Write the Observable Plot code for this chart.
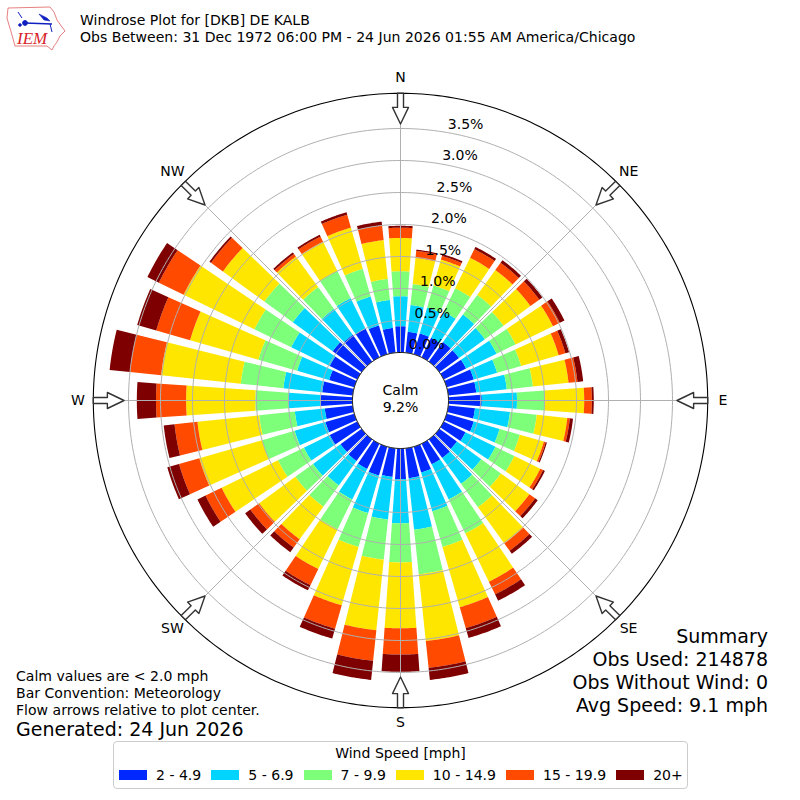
<!DOCTYPE html>
<html>
<head>
<meta charset="utf-8">
<script src="https://cdn.jsdelivr.net/npm/d3@7"></script>
<script src="https://cdn.jsdelivr.net/npm/@observablehq/plot@0.6"></script>
<style>
html,body{margin:0;padding:0;background:#fff;}
#page{position:relative;width:800px;height:800px;overflow:hidden;font-family:"DejaVu Sans",sans-serif;color:#000;}
#chart{position:absolute;left:0;top:0;}
.t{position:absolute;white-space:nowrap;font-size:14.05px;line-height:16px;}
.big{font-size:19px;line-height:22px;}
.r{text-align:right;}
#legend{position:absolute;left:113px;top:741px;width:573px;height:46px;border:1px solid #ccc;border-radius:4px;background:#fff;box-sizing:content-box;}
#legend .h{position:absolute;left:0;right:0;top:3px;text-align:center;font-size:14.05px;line-height:16px;}
#legend .row{position:absolute;left:5px;top:25px;display:flex;gap:10px;font-size:14.05px;line-height:16px;white-space:nowrap;}
#legend .item{display:flex;align-items:center;gap:9px;}
#legend .sw{width:28px;height:10px;display:block;}
</style>
</head>
<body>
<div id="page">
<div id="chart"></div>
<svg style="position:absolute;left:0;top:0" width="70" height="56" viewBox="0 0 70 56">
  <path d="M8 8 L50 7 L54 12 L57 20 L62 27 L65 31 L60 36 L57 42 L54 46 L52 50 L47 46 L15 46 L12 35 L9 25 L7 18 Z" fill="#fff" stroke="#e06060" stroke-width="0.8"/>
  <text x="17" y="44" font-family="Liberation Serif" font-style="italic" font-size="17" fill="#d8232a">IEM</text>
  <g stroke="#1020c0" fill="#1020c0">
    <line x1="25" y1="23" x2="52" y2="24" stroke-width="1.6"/>
    <circle cx="25" cy="23" r="2.4"/>
    <path d="M39 14 L47 18 L50 21 L44 20 Z" stroke-width="0.6"/>
    <line x1="18" y1="12" x2="22" y2="18" stroke-width="1"/>
    <line x1="50" y1="24" x2="52" y2="32" stroke-width="1"/>
    <circle cx="20" cy="25" r="1.3"/>
  </g>
</svg>
<div class="t" style="left:80px;top:12px">Windrose Plot for [DKB] DE KALB</div>
<div class="t" style="left:80px;top:29px">Obs Between: 31 Dec 1972 06:00 PM - 24 Jun 2026 01:55 AM America/Chicago</div>
<div class="t" style="left:16px;top:668px">Calm values are &lt; 2.0 mph</div>
<div class="t" style="left:16px;top:685px">Bar Convention: Meteorology</div>
<div class="t" style="left:16px;top:702px">Flow arrows relative to plot center.</div>
<div class="t big" style="left:16px;top:718px">Generated: 24 Jun 2026</div>
<div class="t big r" style="right:32px;top:625px">Summary</div>
<div class="t big r" style="right:32px;top:648px">Obs Used: 214878</div>
<div class="t big r" style="right:32px;top:671px">Obs Without Wind: 0</div>
<div class="t big r" style="right:32px;top:694px">Avg Speed: 9.1 mph</div>
<div id="legend"><div class="h">Wind Speed [mph]</div><div class="row" id="legendRow"></div></div>
</div>
<script>
// Wind direction of each bar, degrees
const directions = d3.range(0, 360, 10);
const speedBins = ["2 - 4.9", "5 - 6.9", "7 - 9.9", "10 - 14.9", "15 - 19.9", "20+"];
const binColors = ["#0028ff", "#00d4ff", "#7dff7a", "#ffe600", "#ff4a00", "#7f0000"];

// Percent of observations per direction, for each speed bin
const bin2to5 = [.41,.33,.34,.34,.38,.38,.39,.44,.44,.52,.42,.44,.38,.34,.36,.36,.42,.47,.48,.45,.47,.44,.42,.41,.48,.47,.44,.50,.48,.41,.48,.56,.52,.50,.47,.39];
const bin5to7 = [.47,.42,.42,.45,.53,.50,.53,.38,.48,.55,.55,.42,.52,.47,.50,.61,.63,.81,.69,.67,.61,.53,.47,.53,.45,.50,.47,.50,.61,.52,.67,.77,.50,.53,.47,.44];
const bin7to10 = [.39,.33,.36,.41,.38,.36,.33,.39,.41,.44,.42,.33,.33,.38,.45,.59,.58,.70,.61,.63,.55,.52,.41,.34,.45,.53,.56,.52,.67,.63,.64,.55,.42,.47,.45,.33];
const bin10to15 = [.52,.41,.42,.53,.48,.52,.65,.61,.56,.61,.48,.39,.45,.55,.70,.84,.98,1.05,1.03,1.11,.95,.69,.63,.70,.98,1.02,.97,1.08,1.25,1.11,1.23,.80,.59,.51,.67,.61];
const bin15to20 = [.16,.11,.06,.15,.14,.17,.12,.11,.14,.12,.04,.03,.05,.11,.14,.22,.34,.42,.41,.48,.38,.28,.16,.17,.28,.33,.36,.47,.49,.55,.43,.23,.05,.09,.21,.23];
const bin20plus = [.03,.02,.03,.04,.05,.06,.08,.06,.09,.03,.05,.02,.03,.05,.06,.11,.16,.19,.27,.30,.16,.09,.09,.10,.14,.19,.17,.30,.32,.31,.20,.03,.03,.03,.04,.06];
const binValues = [bin2to5, bin5to7, bin7to10, bin10to15, bin15to20, bin20plus];

const ringValues = [0, 0.5, 1, 1.5, 2, 2.5, 3, 3.5];
const compass = ["N", "NE", "E", "SE", "S", "SW", "W", "NW"];
const calmText = "Calm\n9.2%";

// Polar helpers: the radial axis starts at a central hole, in percent units
const hole = 0.75, outer = 4.05, labelR = 4.29, half = 6.25, barWidth = 8;
const rad = d => d * Math.PI / 180;
const px = (r, a) => (r + hole) * Math.sin(rad(a));
const py = (r, a) => (r + hole) * Math.cos(rad(a));

// Wedge outlines
const wedges = [];
directions.forEach((dir, i) => {
  let base = 0;
  speedBins.forEach((bin, b) => {
    const top = base + binValues[b][i], id = dir + "-" + b;
    for (const a of d3.range(dir - barWidth / 2, dir + barWidth / 2 + 0.01, 0.5)) wedges.push({id, bin, x: px(top, a), y: py(top, a)});
    for (const a of d3.range(dir + barWidth / 2, dir - barWidth / 2 - 0.01, -0.5)) wedges.push({id, bin, x: px(base, a), y: py(base, a)});
    base = top;
  });
});

const circle = r => d3.range(0, 360, 1).map(a => ({x: px(r, a), y: py(r, a)}));

const spokes = [];
compass.forEach((c, i) => {
  const a = i * 45;
  spokes.push({c, x: px(0, a), y: py(0, a)}, {c, x: px(outer, a), y: py(outer, a)});
});

// Flow arrows: outline pointing toward the centre, sized in percent units
const arrowPts = [[0, .047], [.22, .047], [.22, .125], [.48, 0], [.22, -.125], [.22, -.047], [0, -.047]];
const arrows = [];
compass.forEach((c, i) => {
  const a = rad(i * 45), R = outer + hole;
  for (const [along, across] of arrowPts) {
    const r = R - along;
    arrows.push({c, x: r * Math.sin(a) + across * Math.cos(a), y: r * Math.cos(a) - across * Math.sin(a)});
  }
});

const ringLabels = ringValues.map(v => ({label: v.toFixed(1) + "%", x: px(v, 10), y: py(v, 10)}));
const compassLabels = compass.map((c, i) => ({c, x: px(labelR, i * 45), y: py(labelR, i * 45)}));

const plot = Plot.plot({
  width: 800, height: 800, margin: 0,
  style: {fontFamily: "DejaVu Sans", background: "#fff", color: "#000"},
  x: {domain: [-half, half], axis: null},
  y: {domain: [-half, half], axis: null},
  color: {domain: speedBins, range: binColors},
  marks: [
    Plot.line(wedges, {x: "x", y: "y", z: "id", fill: "bin", stroke: "none", curve: "linear-closed"}),
    ringValues.map(v => Plot.line(circle(v), {x: "x", y: "y", stroke: "#b0b0b0", strokeWidth: 1, curve: "linear-closed"})),
    Plot.line(spokes, {x: "x", y: "y", z: "c", stroke: "#b0b0b0", strokeWidth: 1}),
    Plot.line(circle(0), {x: "x", y: "y", fill: "#fff", stroke: "#000", strokeWidth: 1, curve: "linear-closed"}),
    Plot.line(circle(outer), {x: "x", y: "y", stroke: "#000", strokeWidth: 1.1, curve: "linear-closed"}),
    Plot.line(arrows, {x: "x", y: "y", z: "c", fill: "#fff", stroke: "#333", strokeWidth: 1.4, curve: "linear-closed"}),
    Plot.text(ringLabels, {x: "x", y: "y", text: "label", fontSize: 14.05, textAnchor: "start", lineAnchor: "bottom", dy: -4, fill: "#000"}),
    Plot.text(compassLabels, {x: "x", y: "y", text: "c", fontSize: 14.05, dy: -0.5, fill: "#000"}),
    Plot.text([calmText], {x: 0, y: 0, text: d => d, fontSize: 14.05, lineHeight: 1.22, dy: -2.5, fill: "#000"})
  ]
});
document.getElementById("chart").appendChild(plot);

const row = document.getElementById("legendRow");
speedBins.forEach((bin, i) => {
  const item = document.createElement("div");
  item.className = "item";
  const sw = document.createElement("span");
  sw.className = "sw";
  sw.style.background = binColors[i];
  const label = document.createElement("span");
  label.textContent = bin;
  item.append(sw, label);
  row.append(item);
});
</script>
</body>
</html>
